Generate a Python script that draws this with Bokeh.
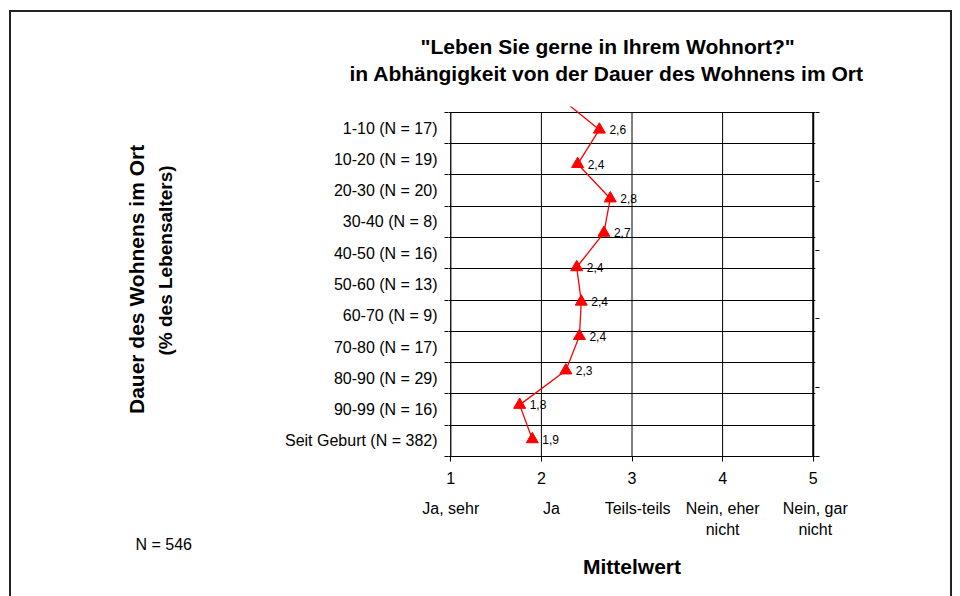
from bokeh.plotting import figure
from bokeh.models import Range1d, LinearAxis, FixedTicker, Title
from bokeh.core.properties import value
from bokeh.embed import file_html
from bokeh.resources import INLINE

# ---------------- data ----------------
categories = ["1-10 (N = 17)", "10-20 (N = 19)", "20-30 (N = 20)", "30-40 (N = 8)",
              "40-50 (N = 16)", "50-60 (N = 13)", "60-70 (N = 9)", "70-80 (N = 17)",
              "80-90 (N = 29)", "90-99 (N = 16)", "Seit Geburt (N = 382)"]
mean_values = [2.64, 2.40, 2.76, 2.69, 2.39, 2.44, 2.42, 2.27, 1.76, 1.90]
hidden_prev_value = 2.17   # point above the plot area; only its segment shows
x_ticks = [1, 2, 3, 4, 5]
scale_labels = ["Ja, sehr", "Ja", "Teils-teils", "Nein, eher\nnicht", "Nein, gar\nnicht"]
title_lines = ['"Leben Sie gerne in Ihrem Wohnort?"',
               "in Abhängigkeit von der Dauer des Wohnens im Ort"]
y_title_lines = ["Dauer des Wohnens im Ort", "(% des Lebensalters)"]
x_title = "Mittelwert"
n_note = "N = 546"

value_labels = [f"{v:.1f}".replace(".", ",") for v in mean_values]

# ---------------- layout ----------------
FONT = "Liberation Sans"
n_cat = len(categories)
n_pts = len(mean_values)
overshoot = 0.19
xpad = 0.025
FRAME_L, FRAME_T = 448, 106
FRAME_W, FRAME_H = 367, 350
unit_px = FRAME_W / (x_ticks[-1] - x_ticks[0] + 2 * xpad)

row_centers = [n_cat - i - 0.5 for i in range(n_cat)]
row_bounds = list(range(n_cat + 1))
pt_slots = [n_pts - k - 0.5 for k in range(n_pts)]


def title(text, size, bold, align, offset, standoff):
    return Title(text=text, align=align, offset=offset, standoff=standoff,
                 text_font=FONT, text_font_size=size,
                 text_font_style="bold" if bold else "normal", text_color="black")


p = figure(width=960, height=596, output_backend="svg", toolbar_location=None,
           x_range=Range1d(x_ticks[0] - xpad, x_ticks[-1] + xpad),
           y_range=Range1d(0, n_cat + overshoot),
           min_border_left=FRAME_L, min_border_right=960 - FRAME_L - FRAME_W,
           min_border_top=FRAME_T, min_border_bottom=596 - FRAME_T - FRAME_H)
p.extra_y_ranges = {"pts": Range1d(0, n_pts * (n_cat + overshoot) / n_cat)}
p.outline_line_color = None
p.background_fill_color = "white"
p.border_fill_color = None
# outer chart border (left, top, right edges) drawn as the page background
p.styles = {
    "background-color": "white",
    "background-image": "linear-gradient(#222,#222), linear-gradient(#222,#222), linear-gradient(#222,#222)",
    "background-size": "2px 700px, 943px 2px, 2px 700px",
    "background-position": "9px 10px, 9px 10px, 950px 10px",
    "background-repeat": "no-repeat",
}

# grid
p.xgrid.grid_line_color = None
p.ygrid.ticker = FixedTicker(ticks=row_bounds)
p.ygrid.grid_line_color = "black"
p.ygrid.grid_line_width = 1

# vertical grid lines + left/right axis lines (stop at the top gridline)
p.segment(x0=x_ticks, y0=[0] * len(x_ticks), x1=x_ticks, y1=[n_cat] * len(x_ticks),
          line_color="black", line_width=[1.3, 1, 1, 1, 2])

# bottom axis (numbers)
xa = p.xaxis[0]
xa.ticker = FixedTicker(ticks=x_ticks)
xa.major_label_text_font = FONT
xa.major_label_text_font_size = "16px"
xa.major_label_text_color = "black"
xa.major_tick_out = 5
xa.major_tick_in = 0
xa.minor_tick_out = 0
xa.minor_tick_in = 0
xa.axis_line_color = "black"
xa.major_tick_line_color = "black"
xa.major_label_standoff = 10

# scale descriptions: one label axis per text line
desc_offsets_px = [[0, 10, 5.6, 0, 4], [0, 0, 0, 0, 5.6]]
desc_standoffs = [13, 1]
x_max_tick = x_ticks[-1] + 0.9 * xpad
split = [lab.split("\n") for lab in scale_labels]
for line_no in range(2):
    ticks, overrides = [], {}
    for xv, parts, off in zip(x_ticks, split, desc_offsets_px[line_no]):
        if len(parts) > line_no:
            t = round(min(xv + off / unit_px, x_max_tick), 4)
            ticks.append(t)
            overrides[t] = parts[line_no]
    ax = LinearAxis(ticker=FixedTicker(ticks=ticks), major_label_overrides=overrides,
                    axis_line_color=None, major_tick_line_color=None,
                    minor_tick_line_color=None, major_tick_out=0, major_tick_in=0,
                    minor_tick_out=0, minor_tick_in=0,
                    major_label_standoff=desc_standoffs[line_no],
                    major_label_text_font=FONT, major_label_text_font_size="16px",
                    major_label_text_color="black")
    p.add_layout(ax, "below")

# N note and x title
p.add_layout(title(n_note, "16px", False, "left", 135 - FRAME_L, -14), "below")
p.add_layout(title(x_title, "21px", True, "center", 0, 15), "below")

# left axis
ya = p.yaxis[0]
ya.ticker = FixedTicker(ticks=row_centers, minor_ticks=row_bounds)
ya.major_label_overrides = {c: lab for c, lab in zip(row_centers, categories)}
ya.major_label_text_font = FONT
ya.major_label_text_font_size = "16px"
ya.major_label_text_color = "black"
ya.major_tick_out = 0
ya.major_tick_in = 0
ya.minor_tick_out = 4
ya.minor_tick_in = 0
ya.minor_tick_line_color = "black"
ya.axis_line_color = None
ya.major_label_standoff = 7

# y title: spacer + two rotated lines (left-aligned from the frame bottom)
frame_bottom = FRAME_T + FRAME_H
p.add_layout(title(" ", "10px", False, "left", 0, 92), "left")
p.add_layout(title(y_title_lines[1], "19px", True, "left", frame_bottom - 355, 2), "left")
p.add_layout(title(y_title_lines[0], "21px", True, "left", frame_bottom - 413.5, 6.4), "left")

# right (secondary) axis
right_ticks = list(range(0, n_pts + 1, 2))
ra = LinearAxis(y_range_name="pts", ticker=FixedTicker(ticks=right_ticks),
                major_label_overrides={t: "" for t in right_ticks},
                axis_line_color=None, major_tick_out=4, major_tick_in=0,
                minor_tick_out=0, minor_tick_in=0, major_tick_line_color="black")
p.add_layout(ra, "right")

# title: spacer + second line (inner), first line is the plot title (outermost)
p.add_layout(title(" ", "10px", False, "left", 0, 8), "above")
p.add_layout(title(title_lines[1], "21px", True, "left", 349 - FRAME_L, 2), "above")
p.title.text = title_lines[0]
p.title.align = "left"
p.title.offset = 420 - FRAME_L
p.title.standoff = 1.4
p.title.text_font = FONT
p.title.text_font_size = "21px"
p.title.text_font_style = "bold"
p.title.text_color = "black"

# series
p.line(x=[hidden_prev_value] + mean_values, y=[n_pts + 0.5] + pt_slots, y_range_name="pts",
       line_color="#FF0000", line_width=1.3)
p.scatter(x=mean_values, y=pt_slots, y_range_name="pts", marker="triangle", size=12,
          fill_color="#FF0000", line_color="#FF0000")
p.text(x=mean_values, y=pt_slots, text=value_labels, y_range_name="pts", x_offset=10,
       text_font=value(FONT), text_font_size="12px", text_baseline="middle",
       text_align="left", text_color="black")

open("out.html", "w").write(file_html(p, INLINE))
